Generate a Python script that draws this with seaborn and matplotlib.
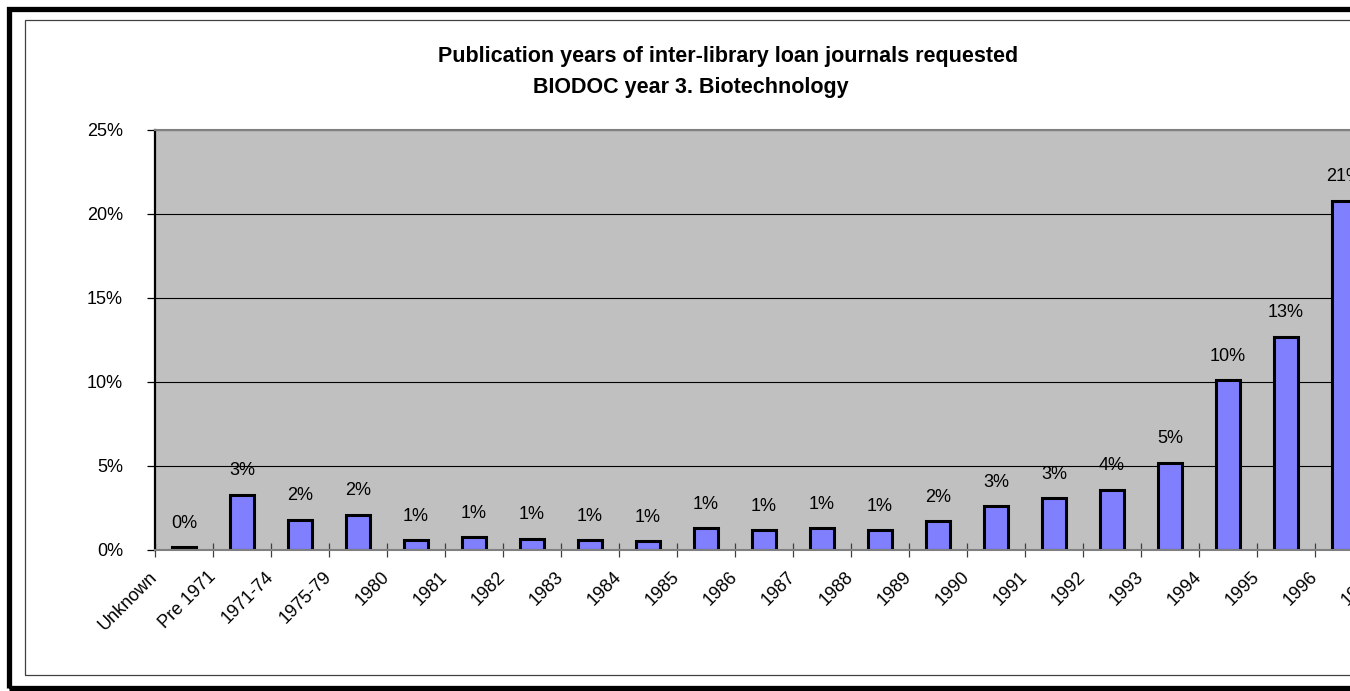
import numpy as np
import pandas as pd
import matplotlib
matplotlib.use("Agg")
import matplotlib.pyplot as plt
from matplotlib.patches import Rectangle
import seaborn as sns

# ---------------------------
# DATA (percent of requests)
# ---------------------------
CATEGORIES = ["Unknown", "Pre 1971", "1971-74", "1975-79",
              "1980", "1981", "1982", "1983", "1984", "1985", "1986", "1987",
              "1988", "1989", "1990", "1991", "1992", "1993", "1994", "1995",
              "1996", "1997"]
# the 1997 bar is cut off in the source picture, so no value for it
SHOWN = CATEGORIES[:21]
VALUES = [0.15, 3.3, 1.8, 2.1,
          0.6, 0.76, 0.68, 0.6, 0.52, 1.3, 1.18, 1.3,
          1.2, 1.7, 2.6, 3.07, 3.6, 5.2, 10.1, 12.7,
          20.8]
Y_TICKS = [0, 5, 10, 15, 20, 25]

TITLE_1 = "Publication years of inter-library loan journals requested"
TITLE_2 = "BIODOC year 3. Biotechnology"

W, H = 1350, 691


def px(x, y):
    # pixel position (from top-left) -> figure fraction
    return x / W, 1 - y / H


def main():
    sns.set_theme(style="white")
    plt.rcParams["font.family"] = ["Liberation Sans", "DejaVu Sans"]
    plt.rcParams["text.color"] = "black"
    plt.rcParams["xtick.labelcolor"] = "black"
    plt.rcParams["ytick.labelcolor"] = "black"

    df = pd.DataFrame({"year": SHOWN, "pct": VALUES})

    fig = plt.figure(figsize=(W / 100, H / 100), dpi=100)
    fig.patch.set_facecolor("white")

    # plot area runs past the right edge, like the cropped original
    left, bottom = px(155, 550)
    ax = fig.add_axes([left, bottom, 1276 / W, 420 / H])
    ax.set_facecolor("#C0C0C0")

    sns.barplot(data=df, x="year", y="pct", order=CATEGORIES, ax=ax,
                color="#8080FF", saturation=1, width=0.43,
                edgecolor="black", linewidth=2.2)

    ax.set_ylim(0, 25)
    ax.set_xlim(-0.5, len(CATEGORIES) - 0.5)
    ax.set_xlabel("")
    ax.set_ylabel("")

    ax.set_yticks(Y_TICKS, [f"{t}%" for t in Y_TICKS], fontsize=13)
    ax.tick_params(axis="y", direction="out", length=6, width=0.9,
                   color="black", labelcolor="black", pad=17, left=True)

    # Excel style: ticks on category boundaries, labels ending at the boundary
    bounds = np.arange(len(CATEGORIES) + 1) - 0.5
    ax.set_xticks(bounds, CATEGORIES + [""])
    ax.tick_params(axis="x", direction="inout", length=9.5, width=0.9,
                   color="#404040", labelcolor="black", pad=13, bottom=True)
    for lab in ax.get_xticklabels():
        lab.set_rotation(45)
        lab.set_rotation_mode("anchor")
        lab.set_ha("right")
        lab.set_va("center")
        lab.set_fontsize(13)

    ax.yaxis.grid(True, color="black", linewidth=0.8)
    ax.xaxis.grid(False)
    ax.set_axisbelow(True)

    ax.spines["left"].set_color("black")
    ax.spines["left"].set_linewidth(1.6)
    ax.spines["bottom"].set_color("#808080")
    ax.spines["bottom"].set_linewidth(1.5)
    ax.spines["top"].set_color("#808080")
    ax.spines["top"].set_linewidth(1.5)
    ax.spines["right"].set_visible(False)

    cont = ax.containers[0]
    ax.bar_label(cont, labels=[f"{v:.0f}%" for v in cont.datavalues],
                 padding=11, fontsize=13, color="black")

    # title lines
    x1, y1 = px(728, 62)
    x2, y2 = px(691, 93)
    fig.text(x1, y1, TITLE_1, ha="center", va="baseline",
             fontsize=15.5, fontweight="bold", color="black")
    fig.text(x2, y2, TITLE_2, ha="center", va="baseline",
             fontsize=15.5, fontweight="bold", color="black")

    # chart frames: thick outer border and thin chart-area border
    ox, oy = px(8.5, 688)
    fig.add_artist(Rectangle((ox, oy), 1450 / W, (688 - 8.5) / H,
                             transform=fig.transFigure, fill=False,
                             edgecolor="black", linewidth=3.8))
    ix, iy = px(25, 675)
    fig.add_artist(Rectangle((ix, iy), 1450 / W, (675 - 20) / H,
                             transform=fig.transFigure, fill=False,
                             edgecolor="#404040", linewidth=0.9))

    fig.savefig("out.png", dpi=100)


if __name__ == "__main__":
    main()
